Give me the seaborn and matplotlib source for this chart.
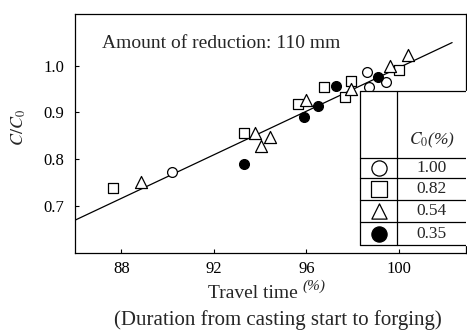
import matplotlib
matplotlib.use("Agg")
import matplotlib.pyplot as plt
import seaborn as sns
import pandas as pd

# ---- data ----
c100_x = [90.2, 98.6, 98.7, 99.45]
c100_y = [0.772, 0.987, 0.955, 0.965]
c082_x = [87.65, 93.3, 95.65, 96.75, 97.95, 97.65, 100.0]
c082_y = [0.738, 0.855, 0.917, 0.955, 0.968, 0.932, 0.990]
c054_x = [88.85, 93.8, 94.45, 94.05, 96.0, 97.95, 99.6, 100.4]
c054_y = [0.751, 0.857, 0.847, 0.828, 0.926, 0.951, 0.998, 1.023]
c035_x = [93.3, 95.9, 96.5, 97.3, 99.1]
c035_y = [0.790, 0.891, 0.913, 0.957, 0.975]
fit_x = [86.0, 102.3]
fit_y = [0.670, 1.049]
legend_labels = ["1.00", "0.82", "0.54", "0.35"]
x_ticks = [88, 92, 96, 100]
y_ticks = [0.7, 0.8, 0.9, 1.0]

sns.set_style("ticks")
plt.rcParams["font.family"] = ["Liberation Serif", "DejaVu Serif"]
plt.rcParams["mathtext.fontset"] = "stix"

fig = plt.figure(figsize=(4.67, 3.30), dpi=100)
ax = fig.add_axes([75/467, 1-253/330, 391/467, 239/330])

series = [
    (c100_x, c100_y, "o", "white", 50),
    (c082_x, c082_y, "s", "white", 55),
    (c054_x, c054_y, "^", "white", 75),
    (c035_x, c035_y, "o", "black", 50),
]
for xs, ys, m, fc, sz in series:
    df = pd.DataFrame({"x": xs, "y": ys})
    sns.scatterplot(data=df, x="x", y="y", marker=m, s=sz, color=fc,
                    edgecolor="black", linewidth=0.9, ax=ax, zorder=3)

sns.lineplot(x=fit_x, y=fit_y, color="black", linewidth=0.9, ax=ax, zorder=2)

ax.set_xlim(86, 102.9)
ax.set_ylim(0.60, 1.11)
ax.set_xticks(x_ticks)
ax.set_xticklabels([str(t) for t in x_ticks])
ax.set_yticks(y_ticks)
ax.set_yticklabels([f"{t:.1f}" for t in y_ticks])
ax.tick_params(direction="in", length=3, width=0.8, labelsize=12, colors="black")
ax.tick_params(axis="y", pad=8)
ax.tick_params(axis="x", pad=6)
for s in ax.spines.values():
    s.set_linewidth(0.9)
    s.set_color("black")
ax.set_xlabel("")
ax.set_ylabel("")

fig.text(102/467, 1-43/330, "Amount of reduction: 110 mm",
         fontsize=14, ha="left", va="center")

fig.text(19/467, 1-128/330, r"$C/C_0$", rotation=90, ha="center", va="center",
         fontsize=13)
fig.text(208/467, 1-294/330, "Travel time", ha="left", va="center", fontsize=14)
fig.text(302/467, 1-286/330, "(%)", ha="left", va="center", fontsize=11, style="italic")
fig.text(278/467, 1-320/330, "(Duration from casting start to forging)",
         ha="center", va="center", fontsize=15)

# legend table
tl, td, tr = 0.729, 0.824, 1.0
ty = [0.678, 0.397, 0.314, 0.222, 0.130, 0.033]
ax.fill_between([tl, tr], ty[-1], ty[0], transform=ax.transAxes, color="white", zorder=4)
kw = dict(transform=ax.transAxes, color="black", linewidth=0.9, zorder=5)
ax.plot([tl, tr], [ty[0], ty[0]], **kw)
for yy in ty[1:]:
    ax.plot([tl, tr], [yy, yy], **kw)
ax.plot([tl, tl], [ty[-1], ty[0]], **kw)
ax.plot([td, td], [ty[-1], ty[0]], **kw)
ax.text((td+tr)/2, 0.47, r"$C_0$(%)", transform=ax.transAxes, ha="center",
        va="center", fontsize=12.5, zorder=6, style="italic")
marks = [("o", "white"), ("s", "white"), ("^", "white"), ("o", "black")]
for i, ((m, fc), lab) in enumerate(zip(marks, legend_labels)):
    yc = (ty[i+1] + ty[i+2]) / 2
    ax.scatter([(tl+td)/2], [yc], marker=m, s=120, facecolor=fc, edgecolor="black",
               linewidth=0.9, transform=ax.transAxes, zorder=6, clip_on=False)
    ax.text((td+tr)/2, yc, lab, transform=ax.transAxes, ha="center", va="center",
            fontsize=12.5, zorder=6)

fig.savefig("out.png", dpi=100)
